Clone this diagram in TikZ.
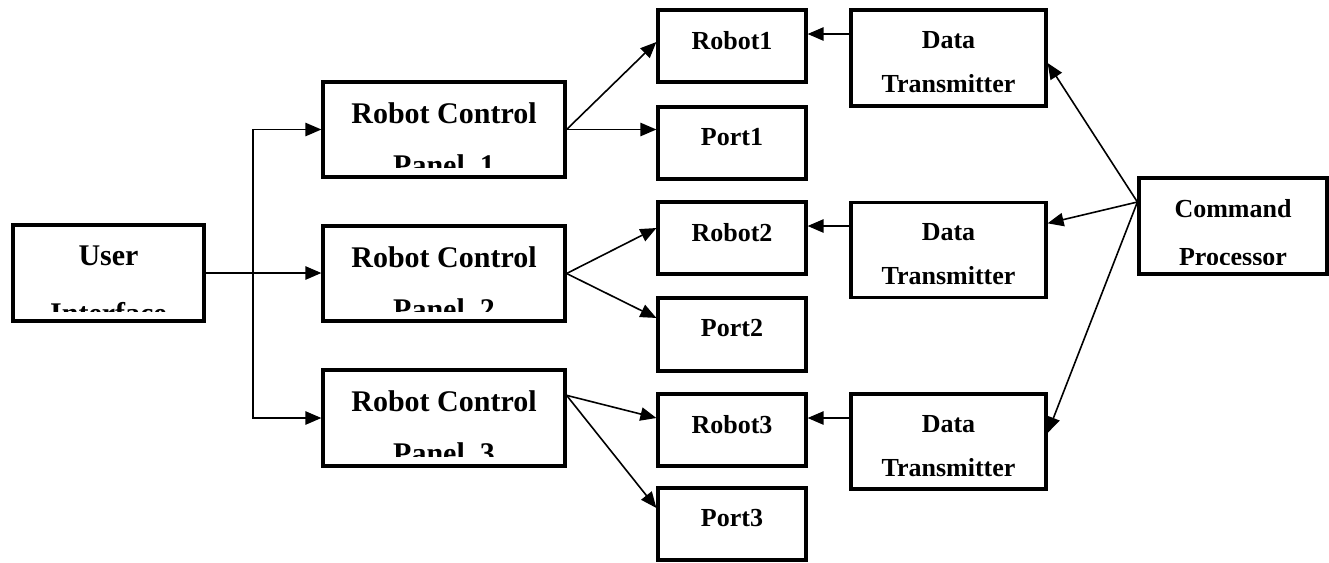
\documentclass[tikz,border=0pt]{standalone}
\usepackage{fontspec}
\setmainfont{Liberation Serif}
\usetikzlibrary{arrows.meta}
\newcommand\bigfont{\fontsize{22.5}{35}\selectfont\bfseries}
\newcommand\smallfont{\fontsize{19.5}{33}\selectfont\bfseries}
\begin{document}
\begin{tikzpicture}[x=0.75pt,y=-0.75pt,>={Triangle[length=12pt,width=10pt]},
  box/.style 2 args={draw,line width=2.4pt,inner sep=0pt,minimum width={#1*0.75pt},minimum height={#2*0.75pt}},
  txt/.style 2 args={path picture={\clip ([yshift=7.5pt]path picture bounding box.south west) rectangle (path picture bounding box.north east);
    \node[draw=none,minimum size=0pt,anchor=north,align=center,inner sep=0pt,font=#1] at ([yshift=-14.6pt]path picture bounding box.north) {#2};}},
  big/.style={txt={\bigfont}{#1}},
  small/.style={txt={\smallfont}{#1}},
  arr/.style={->,line width=1.2pt}]
\useasboundingbox (0,0) rectangle (1329,562);
\node[box={191}{96},big={User\\[8.5pt]Interface}] (ui) at (108.5,273) {};
\node[box={242}{95},big={Robot Control\\[3.7pt]Panel\_1}] (rcp1) at (444,129.5) {};
\node[box={242}{95},big={Robot Control\\[3.7pt]Panel\_2}] (rcp2) at (444,273.5) {};
\node[box={242}{96},big={Robot Control\\[3.7pt]Panel\_3}] (rcp3) at (444,418) {};
\node[box={148}{72},small={Robot1}] (robot1) at (732,46) {};
\node[box={148}{72},small={Port1}] (port1) at (732,143) {};
\node[box={148}{72},small={Robot2}] (robot2) at (732,238) {};
\node[box={148}{73},small={Port2}] (port2) at (732,334.5) {};
\node[box={148}{72},small={Robot3}] (robot3) at (732,430) {};
\node[box={148}{72},small={Port3}] (port3) at (732,524) {};
\node[box={195}{96},small={Data\\Transmitter}] (dt1) at (948.5,58) {};
\node[box={195}{95},small={Data\\Transmitter}] (dt2) at (948.5,250) {};
\node[box={195}{95},small={Data\\Transmitter}] (dt3) at (948.5,441.5) {};
\node[box={188}{96},small={Command\\[3.2pt]Processor}] (cp) at (1233,226) {};
\coordinate (trunk) at (253,273);
\draw[arr] (ui.east) -- (ui.east -| rcp2.west);
\draw[arr] (trunk) |- (rcp1.west);
\draw[arr] (trunk) |- (rcp3.west);
\draw[arr] (rcp1.east) -- ([yshift=3pt]robot1.west);
\draw[arr] (rcp1.east) -- (rcp1.east -| port1.west);
\draw[arr] (rcp2.east) -- ([yshift=7.5pt]robot2.west);
\draw[arr] (rcp2.east) -- ([yshift=12.4pt]port2.west);
\draw[arr] ([yshift=17pt]rcp3.east) -- ([yshift=9pt]robot3.west);
\draw[arr] ([yshift=17pt]rcp3.east) -- ([yshift=12pt]port3.west);
\draw[arr] ([yshift=9pt]robot1.east -| dt1.west) -- ([yshift=9pt]robot1.east);
\draw[arr] ([yshift=9pt]robot2.east -| dt2.west) -- ([yshift=9pt]robot2.east);
\draw[arr] ([yshift=9pt]robot3.east -| dt3.west) -- ([yshift=9pt]robot3.east);
\draw[arr] ([yshift=18pt]cp.west) -- ([yshift=-3.75pt]dt1.east);
\draw[arr] ([yshift=18pt]cp.west) -- ([yshift=20pt]dt2.east);
\draw[arr] ([yshift=18pt]cp.west) -- ([yshift=6.4pt]dt3.east);
\end{tikzpicture}
\end{document}
